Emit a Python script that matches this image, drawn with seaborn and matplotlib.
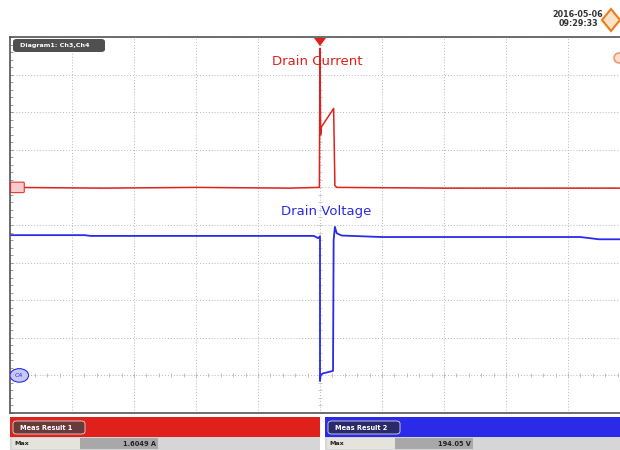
import numpy as np
import pandas as pd
import matplotlib
matplotlib.use("Agg")
import matplotlib.pyplot as plt
from matplotlib.patches import FancyBboxPatch, Rectangle, Polygon, Ellipse
import seaborn as sns

sns.set_style("white")
plt.rcParams['font.family'] = ['DejaVu Sans']

# screen is 10 x 10 divisions, trigger at t = 0
# drain current trace (Ch3), in divisions
cur_t = [-5.0, -3.5, -2.0, -0.5, -0.01, 0.0, 0.01, 0.02, 0.22, 0.24, 0.27, 2.0, 5.0]
cur_v = [6.0, 5.98, 6.0, 5.98, 6.0, 9.7, 7.4, 7.6, 8.1, 6.05, 6.0, 5.98, 5.98]

# drain voltage trace (Ch4), in divisions
volt_t = [-5.0, -3.8, -3.7, -0.1, -0.03, 0.0, 0.0, 0.01, 0.04, 0.21, 0.22, 0.24, 0.27,
          0.35, 1.0, 3.0, 4.2, 4.5, 5.0]
volt_v = [4.73, 4.73, 4.71, 4.71, 4.65, 4.7, 0.85, 1.0, 1.05, 1.12, 4.6, 4.95, 4.78,
          4.72, 4.68, 4.68, 4.68, 4.62, 4.62]

labels = ["Drain Current", "Drain Voltage"]
meas_names = ["Meas Result 1", "Meas Result 2"]
meas_values = ["1.6049 A", "194.05 V"]
timestamp = "2016-05-06\n09:29:33"

red = "#e0201a"
blue = "#2a2ae8"

df_cur = pd.DataFrame({"t": cur_t, "v": cur_v})
df_volt = pd.DataFrame({"t": volt_t, "v": volt_v})

fig = plt.figure(figsize=(6.2, 4.5), dpi=100)
W, H = 620, 450


def fx(px):
    return px / W


def fy(py):
    return 1 - py / H


ax = fig.add_axes([fx(10), fy(413), 620 / W, 376 / H])
ax.set_xlim(-5, 5)
ax.set_ylim(0, 10)
ax.set_xticks(np.arange(-5, 6, 1))
ax.set_yticks(np.arange(0, 11, 1))
ax.set_xticklabels([])
ax.set_yticklabels([])
ax.grid(True, color="#b8b8b8", linestyle=(0, (1, 2)), linewidth=0.7)
ax.tick_params(length=0)
for s in ["top", "bottom", "left"]:
    ax.spines[s].set_color("#555555")
    ax.spines[s].set_linewidth(1.2)
ax.spines["right"].set_visible(False)

# small tick marks along the left edge and centre lines
mt = np.arange(0, 10.01, 0.2)
ax.plot(np.full_like(mt, -5), mt, "_", color="#888888", ms=4, mew=0.6)
ax.plot(np.zeros_like(mt), mt, "_", color="#bbbbbb", ms=3, mew=0.5)
mx = np.arange(-5, 5.01, 0.2)
ax.plot(mx, np.full_like(mx, 1.0), "|", color="#aaaaaa", ms=3, mew=0.5)

sns.lineplot(data=df_volt, x="t", y="v", ax=ax, color=blue, lw=1.3, sort=False,
             estimator=None)
sns.lineplot(data=df_cur, x="t", y="v", ax=ax, color=red, lw=1.1, sort=False,
             estimator=None)
ax.set_xlabel("")
ax.set_ylabel("")

ax.text(-0.05, 9.35, labels[0], color=red, fontsize=9.5, ha="center", va="center")
ax.text(0.1, 5.36, labels[1], color=blue, fontsize=9.5, ha="center", va="center")

# channel ground markers
ax.add_patch(FancyBboxPatch((-4.97, 5.88), 0.18, 0.24, boxstyle="round,pad=0.02",
                            fc="#f8cccc", ec=red, lw=0.7, zorder=5))
ax.add_patch(Ellipse((-4.85, 1.0), 0.3, 0.36, fc="#c8c8f4", ec=blue, lw=0.8, zorder=5))
ax.text(-4.85, 1.0, "C4", fontsize=4.5, color=blue, ha="center", va="center", zorder=6)

# trigger marker
fig.patches.append(Polygon([[fx(314), fy(38)], [fx(326), fy(38)], [fx(320), fy(46)]],
                           closed=True, fc=red, ec="none", transform=fig.transFigure))

# diagram tab
fig.patches.append(FancyBboxPatch((fx(13), fy(52)), fx(92), 13 / H,
                                  boxstyle="round,pad=0,rounding_size=0.006",
                                  fc="#505050", ec="none", transform=fig.transFigure))
fig.text(fx(20), fy(45.5), "Diagram1: Ch3,Ch4", color="white", fontsize=4.6,
         fontweight="bold", va="center")

# timestamp and corner icons
fig.text(fx(578), fy(19), timestamp, fontsize=5.8, fontweight="bold", ha="center",
         va="center", color="#333333", linespacing=1.1)
fig.patches.append(Polygon([[fx(611), fy(9)], [fx(620), fy(20)], [fx(611), fy(31)],
                            [fx(602), fy(20)]], closed=True, fc="#fbe3c8",
                           ec="#ee7a1a", lw=1.5, transform=fig.transFigure))
fig.patches.append(Ellipse((fx(619), fy(58)), 10 / W, 10 / H, fc="#fde0d0",
                           ec="#ee8a5a", lw=1, transform=fig.transFigure))

# measurement bars at the bottom
bars = [(10, 320, red, "#f05a4a"), (325, 620, blue, "#3a3aff")]
for (x0, x1, col, col2), name, val in zip(bars, meas_names, meas_values):
    fig.patches.append(Rectangle((fx(x0), fy(437)), fx(x1 - x0), 20 / H, fc=col,
                                 ec="none", transform=fig.transFigure))
    fig.patches.append(FancyBboxPatch((fx(x0 + 3), fy(434)), fx(72), 13 / H,
                                      boxstyle="round,pad=0,rounding_size=0.006",
                                      fc="#6a3a3a" if col == red else "#2a2a6a",
                                      ec="#dddddd", lw=0.6, transform=fig.transFigure))
    fig.text(fx(x0 + 10), fy(427.5), name, color="white", fontsize=4.8,
             fontweight="bold", va="center")
    fig.patches.append(Rectangle((fx(x0), fy(450)), fx(x1 - x0), 13 / H, fc="#d6d6d6",
                                 ec="none", transform=fig.transFigure))
    fig.patches.append(Rectangle((fx(x0 + 2), fy(449)), fx(68), 11 / H, fc="#e4e4dc",
                                 ec="none", transform=fig.transFigure))
    fig.patches.append(Rectangle((fx(x0 + 70), fy(449)), fx(78), 11 / H, fc="#a8a8a8",
                                 ec="none", transform=fig.transFigure))
    fig.text(fx(x0 + 4), fy(443.5), "Max", fontsize=4.6, fontweight="bold",
             va="center", color="#222222")
    fig.text(fx(x0 + 146), fy(443.5), val, fontsize=4.8, fontweight="bold",
             va="center", ha="right", color="#222222")

fig.savefig("out.png", dpi=100)
